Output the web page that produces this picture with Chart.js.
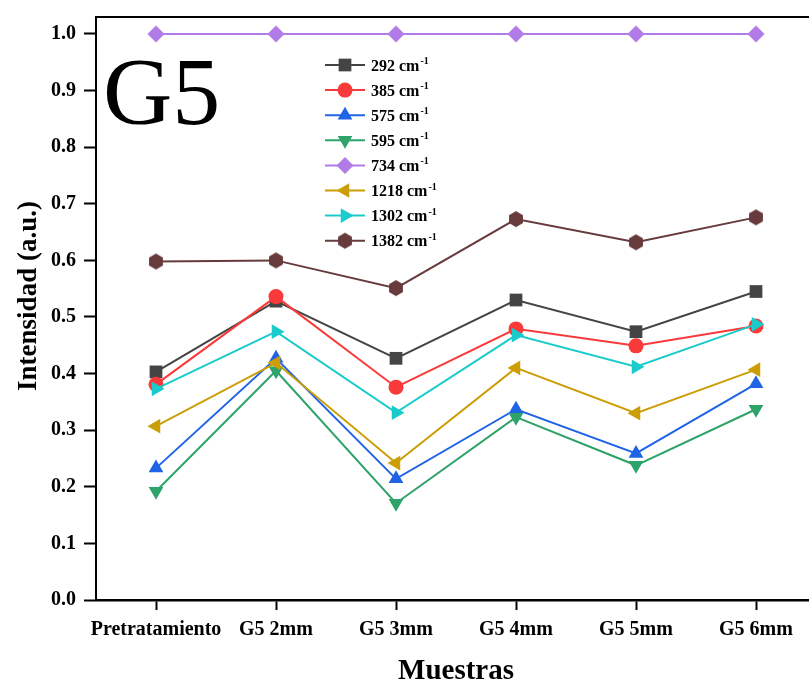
<!DOCTYPE html>
<html>
<head>
<meta charset="utf-8">
<script src="https://cdn.jsdelivr.net/npm/chart.js@4.4.1/dist/chart.umd.min.js"></script>
<style>
html,body{margin:0;padding:0;overflow:hidden;background:#fff;width:809px;height:686px;}
canvas{display:block;}
</style>
</head>
<body>
<canvas id="c" width="830" height="686"></canvas>
<script>
const categories = ['Pretratamiento','G5 2mm','G5 3mm','G5 4mm','G5 5mm','G5 6mm'];
const seriesNames = ['292','385','575','595','734','1218','1302','1382'];
const s292  = [0.403,0.528,0.427,0.530,0.474,0.545];
const s385  = [0.381,0.536,0.376,0.479,0.449,0.484];
const s575  = [0.233,0.427,0.214,0.337,0.259,0.382];
const s595  = [0.192,0.405,0.171,0.323,0.238,0.337];
const s734  = [1.000,1.000,1.000,1.000,1.000,1.000];
const s1218 = [0.307,0.419,0.242,0.410,0.330,0.407];
const s1302 = [0.373,0.474,0.331,0.468,0.412,0.487];
const s1382 = [0.598,0.600,0.551,0.673,0.632,0.676];
const yTicks = [0,0.1,0.2,0.3,0.4,0.5,0.6,0.7,0.8,0.9,1.0];

const FONT = '"Liberation Serif","Times New Roman",serif';

function hexagon(color, r){
  const c = document.createElement('canvas');
  const s = Math.ceil(r*2+2);
  c.width = s; c.height = s;
  const g = c.getContext('2d');
  g.fillStyle = color;
  g.beginPath();
  for(let i=0;i<6;i++){
    const a = Math.PI/6 + i*Math.PI/3;
    const px = s/2 + r*Math.cos(a), py = s/2 + r*Math.sin(a);
    if(i===0) g.moveTo(px,py); else g.lineTo(px,py);
  }
  g.closePath(); g.fill();
  return c;
}

const styles = [
  {color:'#444444', ps:'rect', rot:0, r:9},
  {color:'#fa3a3a', ps:'circle', rot:0, r:7.5},
  {color:'#1f63e6', ps:'triangle', rot:0, r:8.5},
  {color:'#2ea36a', ps:'triangle', rot:180, r:8.5},
  {color:'#b27ce8', ps:'rectRot', rot:0, r:8.5},
  {color:'#cc9e06', ps:'triangle', rot:-90, r:8.5},
  {color:'#1bcbcb', ps:'triangle', rot:90, r:8.5},
  {color:'#673a3c', ps:hexagon('#673a3c',8), rot:0, r:8}
];
const values = [s292,s385,s575,s595,s734,s1218,s1302,s1382];

const datasets = values.map((v,i)=>({
  label: seriesNames[i]+' cm-1',
  data: v,
  borderColor: styles[i].color,
  backgroundColor: styles[i].color,
  pointBackgroundColor: styles[i].color,
  pointBorderColor: styles[i].color,
  pointBorderWidth: 0,
  borderWidth: 2,
  pointStyle: styles[i].ps,
  rotation: styles[i].rot,
  pointRadius: styles[i].r,
  pointHoverRadius: styles[i].r,
  tension: 0,
  order: values.length - i
}));

const decor = {
  id:'decor',
  afterDraw(chart){
    const ctx = chart.ctx, a = chart.chartArea;
    ctx.save();
    // top frame line
    ctx.strokeStyle = '#000'; ctx.lineWidth = 2;
    ctx.beginPath(); ctx.moveTo(a.left-1, a.top); ctx.lineTo(a.right+20, a.top); ctx.stroke();
    // G5 label
    ctx.fillStyle = '#000';
    ctx.font = '96px ' + FONT;
    ctx.textBaseline = 'alphabetic'; ctx.textAlign = 'left';
    ctx.fillText('G5', 103, 124);
    // axis titles
    ctx.font = 'bold 29px ' + FONT;
    ctx.textAlign = 'center';
    ctx.fillText('Muestras', (a.left+a.right)/2, 679);
    ctx.save();
    ctx.translate(36, 296);
    ctx.rotate(-Math.PI/2);
    ctx.font = 'bold 27px ' + FONT;
    ctx.fillText('Intensidad (a.u.)', 0, 0);
    ctx.restore();
    // legend
    const x0 = 325, x1 = 365, tx = 371, y0 = 65, dy = 25.1;
    datasets.forEach((d,i)=>{
      const y = y0 + i*dy;
      ctx.strokeStyle = styles[i].color; ctx.lineWidth = 2;
      ctx.beginPath(); ctx.moveTo(x0,y); ctx.lineTo(x1,y); ctx.stroke();
      ctx.fillStyle = styles[i].color;
      Chart.helpers.drawPoint(ctx, {pointStyle: styles[i].ps, rotation: styles[i].rot, radius: styles[i].r, borderWidth:0}, (x0+x1)/2, y);
      ctx.fillStyle = '#000';
      ctx.textAlign = 'left'; ctx.textBaseline = 'alphabetic';
      ctx.font = 'bold 16px ' + FONT;
      const t = seriesNames[i] + ' cm';
      ctx.fillText(t, tx, y + 5.5);
      const w = ctx.measureText(t).width;
      ctx.font = 'bold 10px ' + FONT;
      ctx.fillText('-1', tx + w + 1, y - 1);
    });
    ctx.restore();
  }
};

new Chart(document.getElementById('c'), {
  type:'line',
  data:{labels:categories, datasets},
  options:{
    responsive:false,
    animation:false,
    devicePixelRatio:1,
    layout:{padding:{left:0,right:14,top:17,bottom:0}},
    plugins:{legend:{display:false}, tooltip:{enabled:false}},
    scales:{
      x:{
        type:'category',
        offset:true,
        grid:{display:true, drawOnChartArea:false, drawTicks:true, offset:false, tickLength:10, tickColor:'#000', tickWidth:2},
        border:{display:true, color:'#000', width:2.5},
        ticks:{color:'#000', font:{family:FONT, size:20, weight:'bold'}, padding:8, maxRotation:0, autoSkip:false},
        afterFit(s){ s.height = 86; s.paddingLeft = 0; s.paddingRight = 0; }
      },
      y:{
        min:0, max:1.03,
        grid:{display:true, drawOnChartArea:false, drawTicks:true, tickLength:12, tickColor:'#000', tickWidth:2},
        border:{display:true, color:'#000', width:2},
        ticks:{color:'#000', font:{family:FONT, size:20, weight:'bold'}, padding:8, stepSize:0.1,
          callback:(v)=>v.toFixed(1)},
        afterBuildTicks(s){ s.ticks = yTicks.map(v=>({value:v})); },
        afterFit(s){ s.width = 96; s.paddingTop = 0; s.paddingBottom = 0; }
      }
    }
  },
  plugins:[decor]
});
</script>
</body>
</html>
